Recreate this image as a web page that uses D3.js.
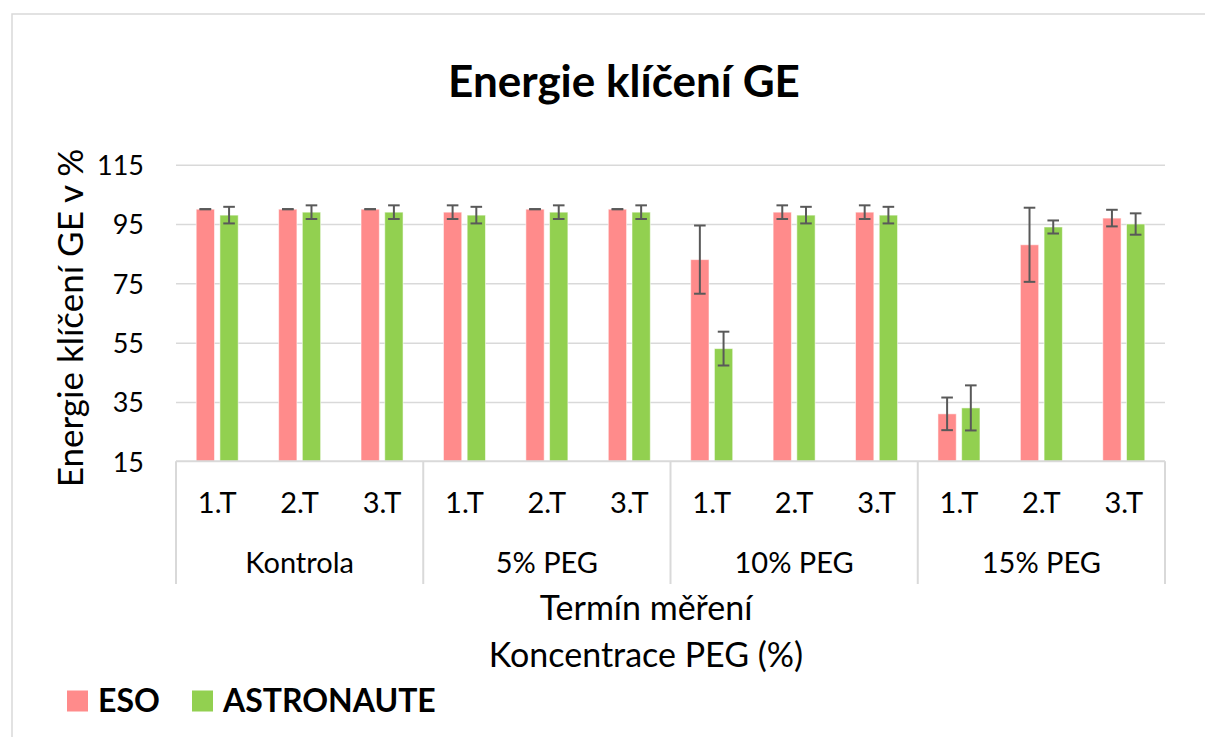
<!DOCTYPE HTML>
<html>
<head>
  <meta charset="utf-8">
  <style>
    body {
      margin: 0px;
      padding: 0px;
      background: #fff;
    }
    text {
      font-family: Lato, "Open Sans", sans-serif;
      fill: #000;
    }
  </style>
</head>
<body>
  <div id="chart"></div>
  <script src="https://d3js.org/d3.v7.min.js"></script>
  <script>
    // values
    let groups = ['Kontrola', '5% PEG', '10% PEG', '15% PEG'];
    let terms = ['1.T', '2.T', '3.T'];
    let series = ['ESO', 'ASTRONAUTE'];
    let colors = ['#ff8b8b', '#92d050'];
    let esoValues = [100, 100, 100, 99, 100, 100, 83, 99, 99, 31, 88, 97];
    let esoErrors = [0, 0, 0, 2.3, 0, 0, 11.5, 2.3, 2.3, 5.5, 12.5, 2.8];
    let astroValues = [98, 99, 99, 98, 99, 99, 53, 98, 98, 33, 94, 95];
    let astroErrors = [2.8, 2.3, 2.3, 2.8, 2.3, 2.3, 5.7, 2.8, 2.8, 7.6, 2.2, 3.6];
    let yTicks = [15, 35, 55, 75, 95, 115];

    var width = 1205,
        height = 737;
    var plotLeft = 176, plotRight = 1165, plotTop = 164.7, plotBottom = 461.3;

    // one row per category (group x term)
    var rows = [];
    groups.forEach(function(g, gi) {
      terms.forEach(function(t, ti) {
        var i = gi * terms.length + ti;
        rows.push({key: g + '|' + t, group: g, term: t,
          vals: [
            {s: 0, v: esoValues[i], e: esoErrors[i]},
            {s: 1, v: astroValues[i], e: astroErrors[i]}
          ]});
      });
    });

    var svg = d3.select('#chart').append('svg').attr('width', width).attr('height', height);

    // outer chart frame
    svg.append('rect').attr('x', 12).attr('y', 14).attr('width', 1200).attr('height', 740)
      .style('fill', 'none').style('stroke', '#d9d9d9').style('stroke-width', 1.5);

    var y = d3.scaleLinear().domain([15, 115]).range([plotBottom, plotTop]);
    var x0 = d3.scaleBand().domain(rows.map(function(d) { return d.key; })).range([plotLeft, plotRight]);
    var x1 = d3.scaleBand().domain([0, 1]).range([0, x0.bandwidth()])
      .paddingInner(0.228).paddingOuter(0.852);
    var xg = d3.scaleBand().domain(groups).range([plotLeft, plotRight]);

    // gridlines + tick labels
    var yAxis = d3.axisLeft(y).tickValues(yTicks).tickSize(-(plotRight - plotLeft)).tickPadding(32);
    var ga = svg.append('g').attr('transform', 'translate(' + plotLeft + ',0)').call(yAxis);
    ga.select('.domain').remove();
    ga.selectAll('line').style('stroke', '#d9d9d9').style('stroke-width', 1.5);
    ga.selectAll('text').style('font-size', '27px').style('font-family', 'Lato').attr('fill', '#000')
      .attr('dy', '0.36em');
    ga.selectAll('.tick').filter(function(d) { return d === 15; }).select('line').remove();

    // bars
    var cat = svg.selectAll('g.cat').data(rows).enter().append('g')
      .attr('class', 'cat')
      .attr('transform', function(d) { return 'translate(' + x0(d.key) + ',0)'; });
    cat.selectAll('rect').data(function(d) { return d.vals; }).enter().append('rect')
      .attr('x', function(d) { return x1(d.s); })
      .attr('y', function(d) { return y(d.v); })
      .attr('width', x1.bandwidth())
      .attr('height', function(d) { return y(15) - y(d.v); })
      .style('fill', function(d) { return colors[d.s]; })
      .style('stroke', 'rgba(255,255,255,0.55)')
      .style('stroke-width', 1);

    // error bars
    var cap = 5.8;
    var eb = cat.selectAll('g.err').data(function(d) { return d.vals; }).enter().append('g')
      .attr('class', 'err')
      .style('stroke', '#595959').style('stroke-width', 2);
    eb.append('line')
      .attr('x1', function(d) { return x1(d.s) + x1.bandwidth() / 2; })
      .attr('x2', function(d) { return x1(d.s) + x1.bandwidth() / 2; })
      .attr('y1', function(d) { return y(d.v + d.e); })
      .attr('y2', function(d) { return y(d.v - d.e); });
    eb.append('line')
      .attr('x1', function(d) { return x1(d.s) + x1.bandwidth() / 2 - cap; })
      .attr('x2', function(d) { return x1(d.s) + x1.bandwidth() / 2 + cap; })
      .attr('y1', function(d) { return y(d.v + d.e); })
      .attr('y2', function(d) { return y(d.v + d.e); });
    eb.append('line')
      .attr('x1', function(d) { return x1(d.s) + x1.bandwidth() / 2 - cap; })
      .attr('x2', function(d) { return x1(d.s) + x1.bandwidth() / 2 + cap; })
      .attr('y1', function(d) { return y(d.v - d.e); })
      .attr('y2', function(d) { return y(d.v - d.e); });

    // category axis (two levels)
    svg.append('line').attr('x1', plotLeft).attr('x2', plotRight).attr('y1', y(15)).attr('y2', y(15))
      .style('stroke', '#d9d9d9').style('stroke-width', 2);
    var bounds = groups.map(function(g) { return xg(g); }).concat([plotRight]);
    svg.selectAll('line.sep').data(bounds).enter().append('line')
      .attr('class', 'sep')
      .attr('x1', function(d) { return d; }).attr('x2', function(d) { return d; })
      .attr('y1', y(15)).attr('y2', 584)
      .style('stroke', '#d9d9d9').style('stroke-width', 2);
    svg.selectAll('text.term').data(rows).enter().append('text')
      .attr('class', 'term')
      .attr('x', function(d) { return x0(d.key) + x0.bandwidth() / 2; })
      .attr('y', 513)
      .attr('text-anchor', 'middle')
      .style('font-size', '29px')
      .text(function(d) { return d.term; });
    svg.selectAll('text.group').data(groups).enter().append('text')
      .attr('class', 'group')
      .attr('x', function(d) { return xg(d) + xg.bandwidth() / 2; })
      .attr('y', 573)
      .attr('text-anchor', 'middle')
      .style('font-size', '29px')
      .text(function(d) { return d; });

    // titles
    svg.append('text').attr('x', 624).attr('y', 97).attr('text-anchor', 'middle')
      .style('font-size', '44px').style('font-weight', 'bold').text('Energie klíčení GE');
    svg.append('text').attr('transform', 'translate(83,318) rotate(-90)').attr('text-anchor', 'middle')
      .style('font-size', '35px').text('Energie klíčení GE v %');
    svg.append('text').attr('x', 646).attr('y', 620).attr('text-anchor', 'middle')
      .style('font-size', '34px').text('Termín měření');
    svg.append('text').attr('x', 646).attr('y', 667).attr('text-anchor', 'middle')
      .style('font-size', '34px').text('Koncentrace PEG (%)');

    // legend
    var legendX = [67, 192];
    var lg = svg.selectAll('g.legend').data(series).enter().append('g')
      .attr('class', 'legend')
      .attr('transform', function(d, i) { return 'translate(' + legendX[i] + ',690.5)'; });
    lg.append('rect').attr('width', 21).attr('height', 21)
      .style('fill', function(d, i) { return colors[i]; });
    lg.append('text').attr('x', 31).attr('y', 21)
      .style('font-size', '32px').style('font-weight', 'bold')
      .text(function(d) { return d; });
  </script>
</body>
</html>
